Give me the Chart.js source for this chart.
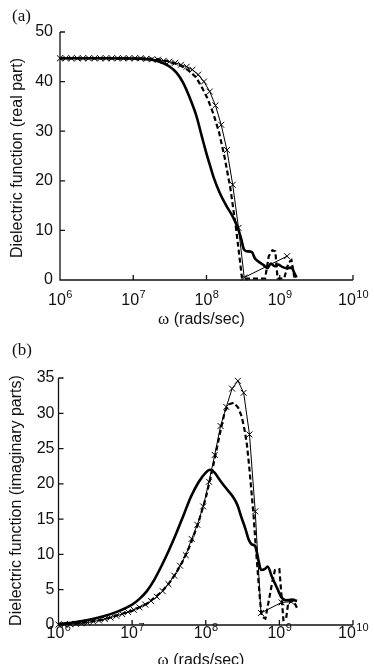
<!DOCTYPE html>
<html>
<head>
<meta charset="utf-8">
<script src="https://cdn.jsdelivr.net/npm/chart.js@4.4.0/dist/chart.umd.min.js"></script>
<style>
  html, body { margin: 0; padding: 0; background: #fff; }
  body { width: 374px; height: 664px; position: relative; overflow: hidden; }
  canvas { position: absolute; left: 0; }
  #ca { top: 0; }
  #cb { top: 332px; }
</style>
</head>
<body>
<canvas id="ca" width="374" height="332"></canvas>
<canvas id="cb" width="374" height="332"></canvas>
<script>
// ---------- DATA (log10 of omega, and dielectric values) ----------
const xTickExps = [6, 7, 8, 9, 10];
const aYTicks = [0, 10, 20, 30, 40, 50];
const bYTicks = [0, 5, 10, 15, 20, 25, 30, 35];

// (a) real part
const aThickExp = [6.0, 6.6, 7.0, 7.2, 7.36, 7.5, 7.59, 7.68, 7.77, 7.86, 7.93, 7.99, 8.05, 8.1, 8.18, 8.27, 8.35, 8.42, 8.47, 8.51, 8.55, 8.62, 8.66, 8.72, 8.78, 8.83, 8.88, 8.93, 8.98, 9.04, 9.10, 9.16, 9.20, 9.23];
const aThickVal = [44.7, 44.7, 44.65, 44.5, 44.0, 43.0, 41.8, 39.8, 36.8, 33.2, 29.3, 26.0, 23.0, 20.6, 17.6, 15.0, 13.0, 10.8, 8.5, 6.2, 5.8, 5.6, 4.4, 3.6, 3.0, 2.4, 3.3, 2.8, 3.1, 2.6, 2.4, 2.5, 1.4, 0.5];

const aDashExp = [6.0, 7.0, 7.3, 7.5, 7.65, 7.75, 7.856, 7.935, 8.014, 8.092, 8.171, 8.249, 8.328, 8.407, 8.485, 8.80, 8.85, 8.90, 8.94, 8.97, 9.06, 9.12, 9.16, 9.20];
const aDashVal = [44.7, 44.7, 44.6, 44.0, 43.2, 42.3, 40.9, 38.9, 36.6, 33.6, 29.8, 24.6, 18.3, 10.0, 0.3, 0.3, 4.8, 6.0, 5.8, 0.3, 0.3, 3.5, 4.0, 0.5];

const aThinExp = [6.000, 6.079, 6.157, 6.236, 6.314, 6.393, 6.472, 6.550, 6.629, 6.707, 6.786, 6.865, 6.943, 7.022, 7.100, 7.179, 7.258, 7.336, 7.415, 7.493, 7.572, 7.651, 7.729, 7.808, 7.886, 7.965, 8.044, 8.122, 8.201, 8.279, 8.358, 8.437, 8.515, 9.100];
const aThinVal = [44.7, 44.7, 44.7, 44.7, 44.7, 44.7, 44.7, 44.7, 44.7, 44.7, 44.7, 44.7, 44.7, 44.7, 44.7, 44.6, 44.5, 44.4, 44.2, 44.0, 43.8, 43.4, 43.0, 42.4, 41.4, 40.0, 38.0, 35.2, 31.3, 26.2, 19.2, 10.5, 0.5, 4.8];

// (b) imaginary part
const bThickExp = [6.0, 6.2, 6.4, 6.6, 6.8, 7.0, 7.1, 7.2, 7.3, 7.4, 7.5, 7.6, 7.7, 7.8, 7.9, 8.0, 8.06, 8.12, 8.2, 8.29, 8.38, 8.43, 8.48, 8.54, 8.58, 8.63, 8.67, 8.72, 8.75, 8.81, 8.84, 8.9, 8.97, 9.03, 9.1, 9.17, 9.24];
const bThickVal = [0.15, 0.35, 0.7, 1.2, 1.9, 2.9, 3.7, 4.8, 6.4, 8.4, 10.6, 13.0, 15.6, 18.2, 20.2, 21.6, 22.0, 21.6, 20.4, 19.2, 18.0, 17.0, 15.4, 13.6, 12.2, 11.4, 11.2, 9.0, 7.8, 8.0, 8.3, 6.8, 5.2, 3.9, 3.5, 3.6, 3.4];

const bDashExp = [6.0, 6.3, 6.6, 6.9, 7.0, 7.2, 7.4, 7.5, 7.6, 7.7, 7.8, 7.9, 8.0, 8.1, 8.2, 8.26, 8.32, 8.38, 8.44, 8.49, 8.53, 8.56, 8.59, 8.62, 8.65, 8.68, 8.71, 8.74, 8.76, 8.81, 8.85, 8.90, 8.94, 9.0, 9.03, 9.055, 9.09, 9.12, 9.19, 9.24];
const bDashVal = [0.05, 0.25, 0.75, 1.7, 2.0, 3.0, 4.7, 5.9, 7.4, 9.3, 11.6, 14.5, 18.0, 22.5, 27.5, 30.3, 31.3, 31.5, 30.8, 29.5, 27.5, 25.5, 22.5, 19.0, 15.5, 11.0, 7.0, 3.2, 1.2, 0.9, 3.1, 5.9, 7.8, 7.9, 4.0, 0.7, 0.8, 3.1, 3.5, 2.4];

const bThinExp = [6.000, 6.079, 6.157, 6.236, 6.314, 6.393, 6.472, 6.550, 6.629, 6.707, 6.786, 6.865, 6.943, 7.022, 7.100, 7.179, 7.258, 7.336, 7.415, 7.493, 7.572, 7.651, 7.729, 7.808, 7.886, 7.965, 8.044, 8.122, 8.201, 8.279, 8.358, 8.437, 8.515, 8.594, 8.672, 8.750, 9.030, 9.160];
const bThinVal = [0.05, 0.08, 0.12, 0.18, 0.25, 0.35, 0.5, 0.65, 0.85, 1.05, 1.3, 1.55, 1.85, 2.15, 2.5, 2.9, 3.4, 4.0, 4.8, 5.8, 7.0, 8.4, 9.9, 12.2, 14.2, 16.8, 20.3, 24.1, 28.2, 30.9, 33.5, 34.6, 32.9, 27.0, 16.1, 1.7, 3.2, 3.3];

// ---------- helpers ----------
const pts = (ex, vs) => ex.map((e, i) => ({ x: Math.pow(10, e), y: vs[i] }));
const SANS = '"Liberation Sans", Arial, Helvetica, sans-serif';
const SERIF = '"Liberation Serif", "Times New Roman", serif';

function decorPlugin(cfg) {
  return {
    id: 'decor',
    beforeDatasetsDraw(chart) {
      const { ctx, chartArea: ca, scales: { x, y } } = chart;
      ctx.save();
      ctx.strokeStyle = '#111';
      ctx.lineWidth = 1.3;
      ctx.beginPath();
      ctx.moveTo(ca.left, ca.top);
      ctx.lineTo(ca.left, ca.bottom);
      ctx.lineTo(ca.right, ca.bottom);
      for (const e of xTickExps) {
        const px = x.getPixelForValue(Math.pow(10, e));
        ctx.moveTo(px, ca.bottom);
        ctx.lineTo(px, ca.bottom - 5);
      }
      for (const v of cfg.yTicks) {
        const py = y.getPixelForValue(v);
        ctx.moveTo(ca.left, py);
        ctx.lineTo(ca.left + 5, py);
      }
      ctx.stroke();

      ctx.fillStyle = '#111';
      // y tick labels
      ctx.font = '16px ' + SANS;
      ctx.textAlign = 'right';
      ctx.textBaseline = 'middle';
      for (const v of cfg.yTicks) {
        ctx.fillText(String(v), ca.left - cfg.yLabGap, y.getPixelForValue(v));
      }
      // x tick labels 10^n
      ctx.textBaseline = 'alphabetic';
      ctx.textAlign = 'left';
      for (const e of xTickExps) {
        const px = x.getPixelForValue(Math.pow(10, e));
        ctx.font = '16px ' + SANS;
        const w1 = ctx.measureText('10').width;
        ctx.font = '11px ' + SANS;
        const w2 = ctx.measureText(String(e)).width;
        const x0 = px - (w1 + w2) / 2;
        ctx.font = '16px ' + SANS;
        ctx.fillText('10', x0, ca.bottom + cfg.xLabBase);
        ctx.font = '11px ' + SANS;
        ctx.fillText(String(e), x0 + w1 + 0.5, ca.bottom + cfg.xLabBase - 7);
      }
      // x title
      ctx.font = '17px ' + SERIF;
      const wo = ctx.measureText('\u03c9').width;
      ctx.font = '16px ' + SANS;
      const wr = ctx.measureText(' (rads/sec)').width;
      const tx0 = cfg.xTitleX - (wo + wr) / 2;
      ctx.font = '17px ' + SERIF;
      ctx.fillText('\u03c9', tx0, cfg.xTitleBase);
      ctx.font = '16px ' + SANS;
      ctx.fillText(' (rads/sec)', tx0 + wo, cfg.xTitleBase);
      // y title
      ctx.save();
      ctx.translate(cfg.yTitleX, (ca.top + ca.bottom) / 2 + cfg.yTitleDy);
      ctx.rotate(-Math.PI / 2);
      ctx.textAlign = 'center';
      ctx.font = '16px ' + SANS;
      ctx.fillText(cfg.yTitle, 0, 0);
      ctx.restore();
      // panel label
      ctx.font = '17px ' + SERIF;
      ctx.textAlign = 'left';
      ctx.fillText(cfg.panel, cfg.panelX, cfg.panelY);
      ctx.restore();
    }
  };
}

function makeChart(id, yMax, pad, thick, dash, thin, cfg) {
  return new Chart(document.getElementById(id), {
    type: 'line',
    data: {
      datasets: [
        { data: thick, borderColor: '#000', borderWidth: 2.6, pointRadius: 0, cubicInterpolationMode: 'monotone', clip: false },
        { data: dash, borderColor: '#000', borderWidth: 2.2, borderDash: [5, 3], pointRadius: 0, tension: 0, clip: false },
        { data: thin, borderColor: '#000', borderWidth: 1, pointStyle: 'crossRot', pointRadius: 4.2,
          pointBorderWidth: 1, pointBorderColor: '#000', pointBackgroundColor: '#000', tension: 0, clip: false }
      ]
    },
    options: {
      responsive: false,
      devicePixelRatio: 1,
      animation: false,
      events: [],
      layout: { padding: pad },
      plugins: { legend: { display: false }, tooltip: { enabled: false } },
      scales: {
        x: { type: 'logarithmic', min: 1e6, max: 1e10, display: false },
        y: { type: 'linear', min: 0, max: yMax, display: false }
      }
    },
    plugins: [decorPlugin(cfg)]
  });
}

makeChart('ca', 50, { left: 60, right: 21, top: 32, bottom: 52 },
  pts(aThickExp, aThickVal), pts(aDashExp, aDashVal), pts(aThinExp, aThinVal),
  { yTicks: aYTicks, yLabGap: 7, xLabBase: 24.5, xTitleX: 201.5, xTitleBase: 323.5,
    yTitle: 'Dielectric function (real part)', yTitleX: 21.5, yTitleDy: 2,
    panel: '(a)', panelX: 12, panelY: 21 });

makeChart('cb', 35, { left: 58.5, right: 21, top: 46, bottom: 39 },
  pts(bThickExp, bThickVal), pts(bDashExp, bDashVal), pts(bThinExp, bThinVal),
  { yTicks: bYTicks, yLabGap: 4, xLabBase: 13, xTitleX: 201, xTitleBase: 333,
    yTitle: 'Dielectric function (imaginary parts)', yTitleX: 20.5, yTitleDy: -1,
    panel: '(b)', panelX: 12, panelY: 23 });
</script>
</body>
</html>
